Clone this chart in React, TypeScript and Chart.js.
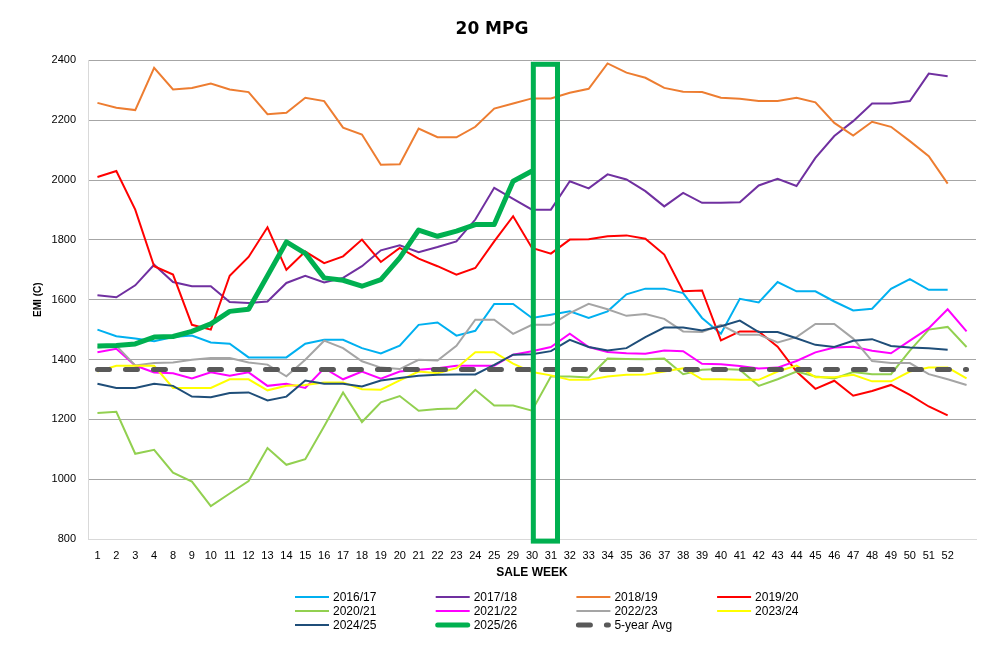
import { useEffect, useRef } from 'react';
import { Chart, registerables } from 'chart.js';

Chart.register(...registerables);

const FONT = "'Liberation Sans Narrow', 'Arial Narrow', 'Liberation Sans', sans-serif";
const TITLE_FONT = "'DejaVu Sans', sans-serif";

const weeks = ['1', '2', '3', '4', '8', '9', '10', '11', '12', '13', '14', '15', '16', '17', '18', '19', '20', '21', '22', '23', '24', '25', '29', '30', '31', '32', '33', '34', '35', '36', '37', '38', '39', '40', '41', '42', '43', '44', '45', '46', '47', '48', '49', '50', '51', '52', ''];

const s1617 = [1500, 1478, 1470, 1461, 1475, 1480, 1457, 1453, 1407, 1407, 1407, 1453, 1466, 1466, 1438, 1420, 1446, 1516, 1524, 1480, 1496, 1586, 1586, 1539, 1550, 1561, 1539, 1561, 1618, 1637, 1637, 1622, 1539, 1486, 1603, 1591, 1659, 1628, 1628, 1594, 1564, 1570, 1636, 1669, 1633, 1633, null];
const s1718 = [1615, 1608, 1648, 1717, 1659, 1645, 1645, 1592, 1589, 1594, 1656, 1680, 1658, 1673, 1712, 1765, 1782, 1759, 1776, 1795, 1868, 1974, 1937, 1901, 1901, 1996, 1972, 2019, 2002, 1963, 1912, 1957, 1924, 1924, 1926, 1982, 2004, 1980, 2074, 2147, 2197, 2256, 2256, 2264, 2356, 2347, null];
const s1819 = [2258, 2242, 2234, 2375, 2303, 2308, 2323, 2303, 2294, 2220, 2225, 2275, 2264, 2175, 2152, 2051, 2053, 2172, 2143, 2143, 2178, 2239, 2256, 2273, 2273, 2292, 2305, 2390, 2359, 2342, 2308, 2295, 2294, 2275, 2272, 2264, 2264, 2275, 2260, 2191, 2149, 2195, 2178, 2130, 2080, 1988, null];
const s1920 = [2010, 2030, 1901, 1712, 1684, 1516, 1500, 1680, 1743, 1842, 1700, 1761, 1722, 1745, 1801, 1726, 1773, 1737, 1712, 1684, 1706, 1795, 1879, 1773, 1754, 1801, 1802, 1812, 1815, 1804, 1751, 1628, 1631, 1464, 1494, 1494, 1443, 1360, 1302, 1329, 1279, 1295, 1315, 1282, 1243, 1213, null];
const s2021 = [1221, 1225, 1085, 1098, 1022, 992, 910, 952, 994, 1104, 1048, 1067, 1177, 1290, 1191, 1257, 1278, 1229, 1235, 1236, 1299, 1246, 1246, 1229, 1343, 1343, 1340, 1403, 1402, 1401, 1403, 1351, 1366, 1368, 1366, 1312, 1334, 1360, 1343, 1337, 1358, 1351, 1351, 1430, 1500, 1509, 1442];
const s2122 = [1424, 1436, 1380, 1357, 1354, 1337, 1357, 1346, 1357, 1312, 1319, 1305, 1371, 1334, 1360, 1336, 1360, 1366, 1371, 1379, 1379, 1379, 1416, 1428, 1442, 1486, 1442, 1425, 1421, 1419, 1430, 1428, 1386, 1384, 1378, 1370, 1373, 1395, 1424, 1440, 1443, 1429, 1421, 1463, 1505, 1568, 1494];
const s2223 = [1440, 1446, 1380, 1388, 1390, 1399, 1405, 1405, 1390, 1383, 1344, 1399, 1463, 1438, 1394, 1373, 1368, 1399, 1397, 1446, 1533, 1533, 1486, 1516, 1516, 1555, 1586, 1568, 1546, 1552, 1536, 1494, 1492, 1516, 1483, 1483, 1457, 1475, 1519, 1519, 1470, 1395, 1388, 1388, 1351, 1334, 1315];
const s2324 = [1360, 1379, 1379, 1379, 1305, 1305, 1305, 1334, 1334, 1297, 1312, 1315, 1323, 1323, 1301, 1299, 1330, 1360, 1354, 1371, 1424, 1424, 1386, 1358, 1347, 1332, 1332, 1343, 1349, 1350, 1360, 1371, 1334, 1334, 1332, 1332, 1360, 1380, 1341, 1341, 1349, 1327, 1327, 1360, 1373, 1373, 1337];
const s2425 = [1319, 1305, 1305, 1319, 1312, 1276, 1274, 1288, 1290, 1263, 1276, 1330, 1319, 1319, 1310, 1330, 1338, 1346, 1349, 1350, 1350, 1382, 1416, 1418, 1428, 1466, 1442, 1430, 1438, 1475, 1507, 1507, 1497, 1511, 1530, 1492, 1492, 1471, 1449, 1442, 1463, 1468, 1445, 1440, 1438, 1433, null];
const s2526 = [1445, 1447, 1452, 1475, 1477, 1494, 1519, 1561, 1568, 1680, 1793, 1755, 1673, 1665, 1645, 1667, 1740, 1833, 1812, 1829, 1851, 1851, 1996, 2030, null, null, null, null, null, null, null, null, null, null, null, null, null, null, null, null, null, null, null, null, null, null, null];
const fiveYearAvg = [1367, 1367, 1367, 1367, 1367, 1367, 1367, 1367, 1367, 1367, 1367, 1367, 1367, 1367, 1367, 1367, 1367, 1367, 1367, 1367, 1367, 1367, 1367, 1367, 1367, 1367, 1367, 1367, 1367, 1367, 1367, 1367, 1367, 1367, 1367, 1367, 1367, 1367, 1367, 1367, 1367, 1367, 1367, 1367, 1367, 1367, 1367];

const yTicks = [800, 1000, 1200, 1400, 1600, 1800, 2000, 2200, 2400];

// highlight box around weeks 30-31, in data coordinates (category index, EMI value)
const highlightBox = { fromIndex: 23.07, toIndex: 24.35, top: 2387, bottom: 793 };

const series = [
  { label: '2016/17', data: s1617, color: '#00b0f0', width: 2 },
  { label: '2017/18', data: s1718, color: '#7030a0', width: 2 },
  { label: '2018/19', data: s1819, color: '#ed7d31', width: 2 },
  { label: '2019/20', data: s1920, color: '#ff0000', width: 2 },
  { label: '2020/21', data: s2021, color: '#92d050', width: 2 },
  { label: '2021/22', data: s2122, color: '#ff00ff', width: 2 },
  { label: '2022/23', data: s2223, color: '#a5a5a5', width: 2 },
  { label: '2023/24', data: s2324, color: '#ffff00', width: 2 },
  { label: '2024/25', data: s2425, color: '#1f4e79', width: 2 },
  { label: '2025/26', data: s2526, color: '#00b050', width: 5 },
  { label: '5-year Avg', data: fiveYearAvg, color: '#595959', width: 5, dash: [12, 16] },
];

const legendPlugin = {
  id: 'gridLegend',
  afterDraw(chart: any) {
    const ctx = chart.ctx as CanvasRenderingContext2D;
    const x0 = 295;
    const colW = 140.7;
    const y0 = 597;
    const rowH = 14;
    const lineLen = 34;
    ctx.save();
    ctx.font = `12px ${FONT}`;
    ctx.textBaseline = 'middle';
    ctx.textAlign = 'left';
    chart.data.datasets.forEach((d: any, i: number) => {
      const col = i % 4;
      const row = Math.floor(i / 4);
      const x = x0 + col * colW;
      const y = y0 + row * rowH;
      ctx.strokeStyle = d.borderColor;
      ctx.lineWidth = d.borderWidth;
      ctx.lineCap = d.borderWidth > 3 ? 'round' : 'butt';
      ctx.setLineDash(d.borderDash || []);
      ctx.beginPath();
      const inset = d.borderWidth > 3 ? 2 : 0;
      ctx.moveTo(x + inset, y);
      ctx.lineTo(x + lineLen - inset, y);
      ctx.stroke();
      ctx.setLineDash([]);
      ctx.fillStyle = '#000';
      ctx.fillText(d.label, x + lineLen + 4, y + 0.5);
    });
    ctx.restore();
  },
};

const boxPlugin = {
  id: 'highlightBox',
  afterDatasetsDraw(chart: any) {
    const ctx = chart.ctx as CanvasRenderingContext2D;
    const xs = chart.scales.x;
    const ys = chart.scales.y;
    const l = xs.getPixelForValue(highlightBox.fromIndex);
    const r = xs.getPixelForValue(highlightBox.toIndex);
    const t = ys.getPixelForValue(highlightBox.top);
    const b = ys.getPixelForValue(highlightBox.bottom);
    ctx.save();
    ctx.strokeStyle = '#00b050';
    ctx.lineWidth = 5;
    ctx.lineJoin = 'miter';
    ctx.strokeRect(l, t, r - l, b - t);
    ctx.restore();
  },
};

export default function App() {
  const ref = useRef<HTMLCanvasElement>(null);

  useEffect(() => {
    if (!ref.current) return;
    const n = series.length;
    const chart = new Chart(ref.current, {
      type: 'line',
      data: {
        labels: weeks,
        datasets: series.map((s, i) => ({
          label: s.label,
          data: s.data,
          borderColor: s.color,
          backgroundColor: s.color,
          borderWidth: s.width,
          borderDash: (s as any).dash,
          borderCapStyle: (s as any).dash ? 'round' : 'butt',
          borderJoinStyle: s.width > 3 ? 'round' : 'miter',
          pointRadius: 0,
          pointHoverRadius: 0,
          tension: 0,
          spanGaps: false,
          fill: false,
          order: n - i,
        })) as any,
      },
      options: {
        animation: false,
        responsive: true,
        maintainAspectRatio: false,
        layout: { padding: { left: 8, right: 11, top: 0, bottom: 59 } },
        plugins: {
          legend: { display: false },
          tooltip: { enabled: false },
          title: {
            display: true,
            text: '20 MPG',
            color: '#000',
            font: { family: TITLE_FONT, size: 17, weight: 'bold' },
            padding: { top: 19, bottom: 21 },
          },
        },
        scales: {
          x: {
            type: 'category',
            offset: true,
            grid: { display: false, drawTicks: false },
            border: { display: true, color: '#d9d9d9', width: 1 },
            ticks: {
              autoSkip: false,
              maxRotation: 0,
              minRotation: 0,
              padding: 10,
              color: '#000',
              font: { family: FONT, size: 11 },
            },
            title: {
              display: true,
              text: 'SALE WEEK',
              color: '#000',
              font: { family: FONT, size: 12, weight: 'bold' },
              padding: { top: 0, bottom: 9 },
            },
            afterFit: (s: any) => {
              s.height = 50;
            },
          },
          y: {
            min: 800,
            max: 2400,
            afterBuildTicks: (s: any) => {
              s.ticks = yTicks.map((v) => ({ value: v }));
            },
            grid: {
              drawTicks: false,
              color: (c: any) => (c.tick && c.tick.value === 800 ? 'rgba(0,0,0,0)' : '#a6a6a6'),
              lineWidth: 1,
            },
            border: { display: true, color: '#d9d9d9', width: 1 },
            ticks: {
              padding: 12,
              color: '#000',
              font: { family: FONT, size: 11 },
              callback: (v: any) => String(v),
            },
            title: {
              display: true,
              text: 'EMI (C)',
              color: '#000',
              font: { family: FONT, size: 10, weight: 'bold' },
              padding: { top: 24, bottom: 0 },
            },
            afterFit: (s: any) => {
              s.width = 80;
            },
          },
        },
      },
      plugins: [boxPlugin, legendPlugin],
    });
    return () => chart.destroy();
  }, []);

  return (
    <div style={{ position: 'absolute', left: 0, top: 0, width: 987, height: 648, background: '#fff' }}>
      <canvas ref={ref} />
    </div>
  );
}
